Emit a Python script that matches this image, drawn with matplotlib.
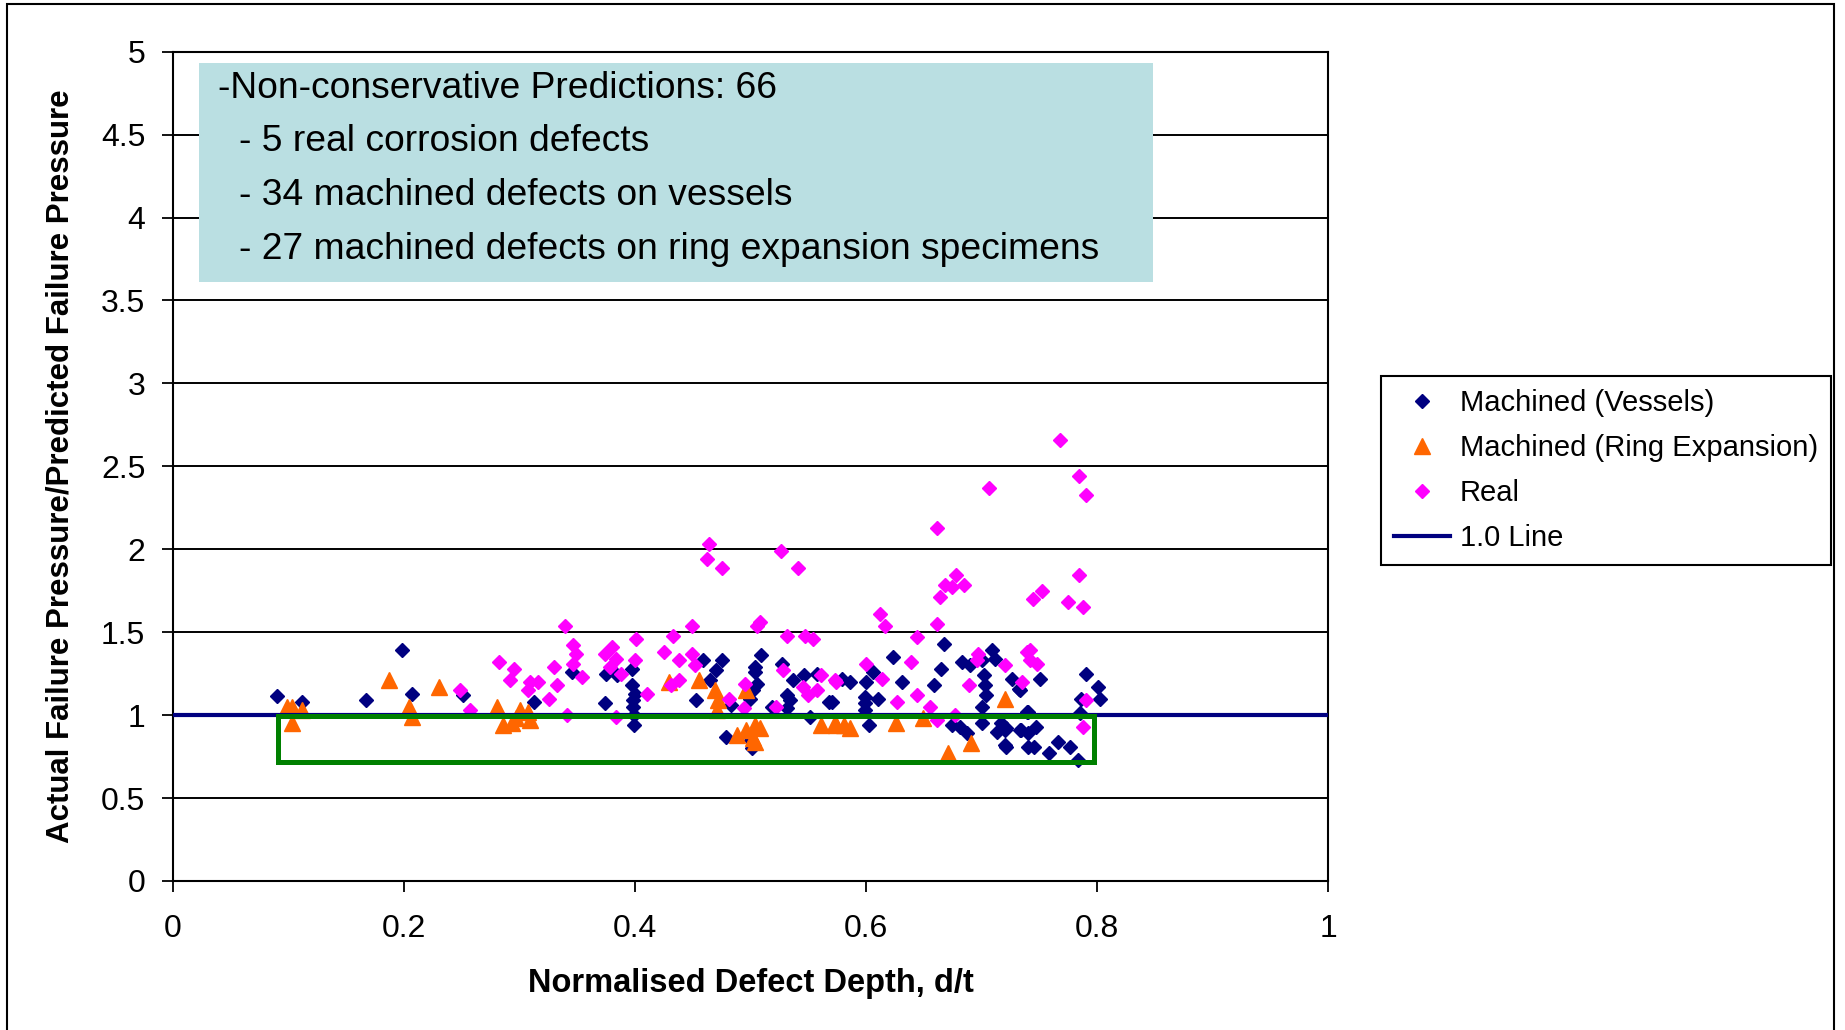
import matplotlib.pyplot as plt
from matplotlib.patches import Rectangle

plt.rcParams['font.family'] = ['Liberation Sans', 'DejaVu Sans']

# Machined (Vessels)
vessels_x = [0.090, 0.112, 0.167, 0.198, 0.207, 0.251, 0.312, 0.345, 0.375, 0.384,
             0.397, 0.397, 0.400, 0.374, 0.398, 0.398, 0.399, 0.399, 0.459, 0.475,
             0.470, 0.465, 0.453, 0.483, 0.509, 0.504, 0.504, 0.505, 0.502, 0.499,
             0.527, 0.537, 0.546, 0.557, 0.531, 0.534, 0.531, 0.518, 0.568, 0.551,
             0.479, 0.501, 0.500, 0.667, 0.623, 0.606, 0.579, 0.586, 0.600, 0.631,
             0.665, 0.659, 0.683, 0.709, 0.711, 0.700, 0.690, 0.702, 0.703, 0.704,
             0.726, 0.732, 0.599, 0.599, 0.599, 0.610, 0.570, 0.602, 0.674, 0.681,
             0.687, 0.700, 0.700, 0.713, 0.720, 0.717, 0.720, 0.734, 0.740, 0.740,
             0.750, 0.733, 0.790, 0.801, 0.802, 0.786, 0.785, 0.721, 0.733, 0.740,
             0.747, 0.721, 0.745, 0.758, 0.766, 0.776, 0.783, 0.739]
vessels_y = [1.115, 1.08, 1.09, 1.39, 1.13, 1.12, 1.08, 1.26, 1.25, 1.24,
             1.28, 1.18, 1.13, 1.07, 1.09, 1.05, 1.00, 0.94, 1.33, 1.33,
             1.27, 1.21, 1.09, 1.06, 1.36, 1.29, 1.26, 1.19, 1.15, 1.10,
             1.31, 1.21, 1.24, 1.25, 1.12, 1.09, 1.04, 1.05, 1.08, 0.99,
             0.87, 0.80, 0.85, 1.43, 1.35, 1.26, 1.22, 1.20, 1.20, 1.20,
             1.28, 1.18, 1.32, 1.39, 1.34, 1.335, 1.30, 1.24, 1.18, 1.12,
             1.22, 1.16, 1.11, 1.07, 1.03, 1.10, 1.08, 0.94, 0.94, 0.93,
             0.89, 1.05, 0.95, 0.90, 0.91, 0.95, 0.82, 0.91, 1.02, 0.81,
             1.22, 1.15, 1.25, 1.17, 1.10, 1.10, 1.01, 0.92, 0.91, 0.89,
             0.93, 0.81, 0.81, 0.77, 0.84, 0.81, 0.73, 1.02]

# Machined (Ring Expansion)
ring_x = [0.099, 0.103, 0.112, 0.103, 0.187, 0.204, 0.207, 0.230, 0.280, 0.286,
          0.293, 0.297, 0.300, 0.307, 0.309, 0.429, 0.455, 0.469, 0.472, 0.471,
          0.496, 0.488, 0.496, 0.504, 0.508, 0.502, 0.504, 0.561, 0.573, 0.574,
          0.581, 0.586, 0.626, 0.649, 0.691, 0.671, 0.720]
ring_y = [1.05, 1.05, 1.03, 0.95, 1.21, 1.05, 0.99, 1.17, 1.05, 0.94,
          0.95, 0.98, 1.03, 1.02, 0.97, 1.20, 1.21, 1.15, 1.09, 1.03,
          1.15, 0.88, 0.91, 0.94, 0.92, 0.86, 0.84, 0.94, 0.95, 0.94,
          0.94, 0.92, 0.95, 0.98, 0.83, 0.77, 1.10]

# Real
real_x = [0.248, 0.339, 0.257, 0.282, 0.295, 0.292, 0.309, 0.307, 0.316, 0.330,
          0.332, 0.325, 0.346, 0.349, 0.346, 0.354, 0.341, 0.374, 0.380, 0.383,
          0.378, 0.388, 0.400, 0.401, 0.383, 0.410, 0.449, 0.505, 0.508, 0.433,
          0.531, 0.547, 0.554, 0.425, 0.438, 0.449, 0.452, 0.431, 0.438, 0.481,
          0.494, 0.495, 0.528, 0.561, 0.545, 0.557, 0.550, 0.522, 0.573, 0.612,
          0.616, 0.661, 0.644, 0.600, 0.639, 0.574, 0.614, 0.697, 0.696, 0.720,
          0.689, 0.735, 0.739, 0.627, 0.644, 0.655, 0.661, 0.677, 0.768, 0.784,
          0.790, 0.784, 0.752, 0.744, 0.775, 0.788, 0.742, 0.742, 0.748, 0.790,
          0.788, 0.464, 0.462, 0.475, 0.526, 0.541, 0.706, 0.661, 0.678, 0.668,
          0.685, 0.674, 0.664]
real_y = [1.15, 1.54, 1.03, 1.32, 1.28, 1.21, 1.20, 1.15, 1.20, 1.29,
          1.18, 1.10, 1.42, 1.37, 1.31, 1.23, 1.00, 1.37, 1.41, 1.34,
          1.29, 1.25, 1.33, 1.46, 0.99, 1.13, 1.54, 1.54, 1.56, 1.48,
          1.48, 1.48, 1.46, 1.38, 1.33, 1.37, 1.30, 1.18, 1.21, 1.10,
          1.04, 1.19, 1.27, 1.24, 1.17, 1.15, 1.12, 1.05, 1.21, 1.61,
          1.54, 1.55, 1.47, 1.31, 1.32, 1.20, 1.22, 1.37, 1.33, 1.30,
          1.18, 1.20, 1.38, 1.08, 1.12, 1.05, 0.97, 1.00, 2.66, 2.44,
          2.33, 1.845, 1.75, 1.70, 1.68, 1.65, 1.39, 1.33, 1.31, 1.09,
          0.93, 2.03, 1.94, 1.89, 1.99, 1.89, 2.37, 2.13, 1.845, 1.785,
          1.785, 1.77, 1.71]

note_lines = ["-Non-conservative Predictions: 66",
              "- 5 real corrosion defects",
              "- 34 machined defects on vessels",
              "- 27 machined defects on ring expansion specimens"]

fig = plt.figure(figsize=(18.45, 10.30), dpi=100)
ax = fig.add_axes([0.0938, 0.1447, 0.6262, 0.8051])

# outer chart border
fig.patches.append(Rectangle((0.004, -0.01), 0.990, 1.006, transform=fig.transFigure,
                             fill=False, edgecolor='black', linewidth=1.5))

ax.plot(vessels_x, vessels_y, linestyle='none', marker='D', markersize=7.5,
        color='#000080', label='Machined (Vessels)', zorder=3)
ax.plot(ring_x, ring_y, linestyle='none', marker='^', markersize=11,
        color='#FF6600', label='Machined (Ring Expansion)', zorder=3)
ax.plot(real_x, real_y, linestyle='none', marker='D', markersize=7.5,
        color='#FF00FF', label='Real', zorder=3)
ax.axhline(1.0, color='#000080', linewidth=3, label='1.0 Line', zorder=4)

# region of non-conservative predictions
ax.add_patch(Rectangle((0.0905, 0.715), 0.7065, 0.28, fill=False,
                       edgecolor='#008000', linewidth=3.6, zorder=5))

ax.set_xlim(0, 1)
ax.set_ylim(0, 5)
ax.set_xticks([0, 0.2, 0.4, 0.6, 0.8, 1])
ax.set_xticklabels(['0', '0.2', '0.4', '0.6', '0.8', '1'])
ax.set_yticks([0, 0.5, 1, 1.5, 2, 2.5, 3, 3.5, 4, 4.5, 5])
ax.set_yticklabels(['0', '0.5', '1', '1.5', '2', '2.5', '3', '3.5', '4', '4.5', '5'])
ax.tick_params(direction='out', length=8, width=1.3, labelsize=23, pad=12)
ax.tick_params(axis='x', pad=16)
ax.grid(axis='y', color='black', linewidth=1.4)
ax.set_axisbelow(True)
for s in ax.spines.values():
    s.set_linewidth(1.5)

ax.set_xlabel('Normalised Defect Depth, d/t', fontsize=23.5, fontweight='bold', labelpad=17)
ax.set_ylabel('Actual Failure Pressure/Predicted Failure Pressure', fontsize=22.5,
              fontweight='bold', labelpad=18)

# annotation box
ax.add_patch(Rectangle((0.0225, 0.722), 0.8255, 0.264, transform=ax.transAxes,
                       facecolor='#BADFE2', edgecolor='none', zorder=2))
ax.text(0.0387, 4.78, note_lines[0], fontsize=26.8, va='center', zorder=3)
for yy, line in zip([4.46, 4.135, 3.81], note_lines[1:]):
    ax.text(0.057, yy, line, fontsize=26.8, va='center', zorder=3)

leg = fig.legend(loc='upper left', bbox_to_anchor=(0.7487, 0.635), borderaxespad=0,
                 fontsize=21, frameon=True, fancybox=False, edgecolor='black',
                 framealpha=1, borderpad=0.45, labelspacing=0.58, handlelength=1.9,
                 handletextpad=0.35)
leg.get_frame().set_linewidth(1.5)

plt.savefig('out.png', dpi=100)
